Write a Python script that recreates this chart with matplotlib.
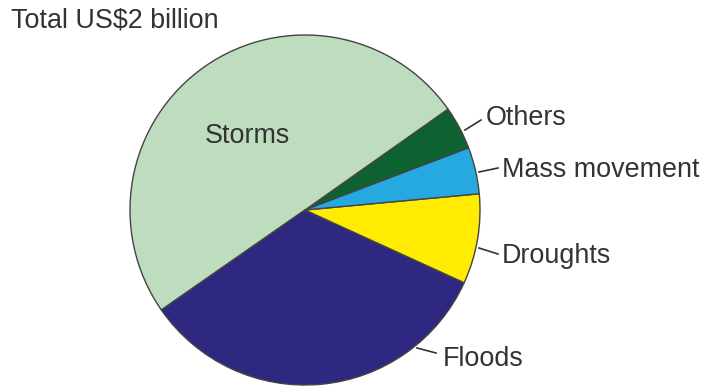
import matplotlib
matplotlib.use("Agg")
import matplotlib.pyplot as plt

categories = ["Others", "Storms", "Floods", "Droughts", "Mass movement"]
shares = [4.0, 49.9, 33.5, 8.3, 4.3]
colors = ["#0E6131", "#BEDDBE", "#2E2880", "#FFEC00", "#25A9E0"]
title = "Total US$2 billion"

W, H = 703, 386
fig = plt.figure(figsize=(W / 100, H / 100), dpi=100)
ax = fig.add_axes([0, 0, 1, 1])
plt.rcParams['font.family'] = ['Liberation Sans', 'DejaVu Sans']

def Y(y):
    return H - y

cx, cy, r = 305, 210, 175
ax.pie(shares, colors=colors, startangle=20.8, counterclock=True,
       center=(cx, Y(cy)), radius=r,
       wedgeprops=dict(edgecolor="#444444", linewidth=1.0))
ax.set_xlim(0, W)
ax.set_ylim(0, H)
ax.set_aspect('auto')
ax.axis('off')

tc = "#333333"
fs = 19.4
# labels: (text, x, baseline y, line start, line end)
labels = [
    ("Others", 486, 125, (465, 130), (481, 120)),
    ("Mass movement", 502, 177, (479, 172), (498, 168)),
    ("Droughts", 502, 263, (479, 248), (498, 254)),
    ("Floods", 443, 366, (417, 348), (436, 353)),
]
for txt, x, yb, p0, p1 in labels:
    ax.text(x, Y(yb), txt, fontsize=fs, color=tc, ha='left', va='baseline')
    ax.plot([p0[0], p1[0]], [Y(p0[1]), Y(p1[1])], color="#333333", lw=1.2)

ax.text(205, Y(143), "Storms", fontsize=fs, color=tc, ha='left', va='baseline')
ax.text(11, Y(28), title, fontsize=fs, color=tc, ha='left', va='baseline')

fig.savefig("out.png", dpi=100)
